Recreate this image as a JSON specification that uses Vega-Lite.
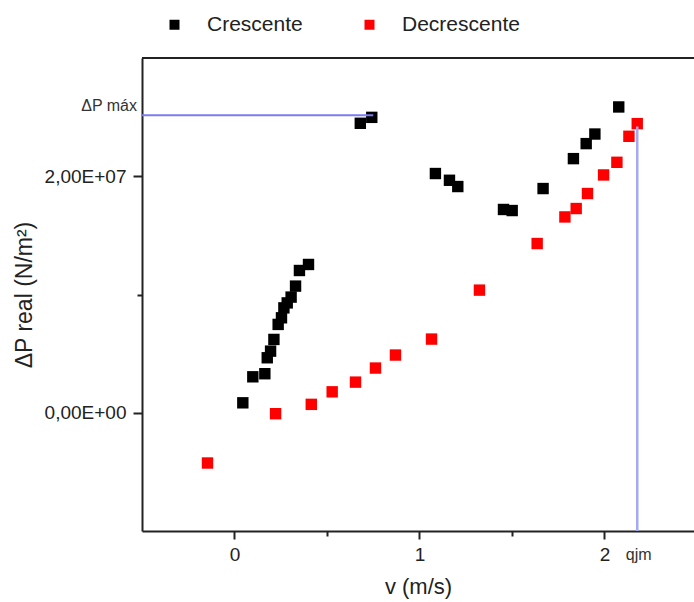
{
  "$schema": "https://vega.github.io/schema/vega-lite/v6.json",
  "width": 552,
  "height": 473,
  "autosize": {"type": "none"},
  "padding": {"left": 142, "top": 58, "right": 0, "bottom": 71},
  "background": "#ffffff",
  "config": {
    "view": {"stroke": null},
    "font": "Liberation Sans",
    "axis": {"labelFont": "Liberation Sans", "titleFont": "Liberation Sans", "labelColor": "#222", "titleColor": "#222", "titleFontWeight": "normal", "domainColor": "#222", "domainWidth": 2, "tickColor": "#222", "tickWidth": 2, "grid": false}
  },
  "encoding": {
    "x": {"field": "v", "type": "quantitative",
      "scale": {"domain": [-0.5, 2.4838], "nice": false, "zero": false},
      "axis": {"orient": "bottom", "values": [0, 0.5, 1, 1.5, 2], "labelExpr": "datum.value == 0.5 || datum.value == 1.5 ? '' : format(datum.value, 'd')",
        "tickSize": {"condition": {"test": "datum.value == 0.5 || datum.value == 1.5", "value": 5}, "value": 8},
        "labelFontSize": 19, "labelPadding": 6, "title": "v (m/s)", "titleFontSize": 22, "titlePadding": 12}},
    "y": {"field": "dp", "type": "quantitative",
      "scale": {"domain": [-10000000, 30000000], "nice": false, "zero": false},
      "axis": {"values": [0, 10000000, 20000000],
        "labelExpr": "datum.value == 0 ? '0,00E+00' : datum.value == 20000000 ? '2,00E+07' : ''",
        "tickSize": {"condition": {"test": "datum.value == 10000000", "value": 5}, "value": 9},
        "labelFontSize": 19, "labelPadding": 7, "title": "ΔP real (N/m²)", "titleFontSize": 23, "titleX": -106}}
  },
  "layer": [
    {
      "data": {"values": [
        {"v": 0.045, "dp": 840000, "serie": "Crescente"},
        {"v": 0.099, "dp": 3040000, "serie": "Crescente"},
        {"v": 0.164, "dp": 3300000, "serie": "Crescente"},
        {"v": 0.177, "dp": 4650000, "serie": "Crescente"},
        {"v": 0.195, "dp": 5210000, "serie": "Crescente"},
        {"v": 0.213, "dp": 6200000, "serie": "Crescente"},
        {"v": 0.236, "dp": 7470000, "serie": "Crescente"},
        {"v": 0.254, "dp": 8030000, "serie": "Crescente"},
        {"v": 0.267, "dp": 8870000, "serie": "Crescente"},
        {"v": 0.285, "dp": 9290000, "serie": "Crescente"},
        {"v": 0.306, "dp": 9780000, "serie": "Crescente"},
        {"v": 0.33, "dp": 10710000, "serie": "Crescente"},
        {"v": 0.351, "dp": 12030000, "serie": "Crescente"},
        {"v": 0.4, "dp": 12540000, "serie": "Crescente"},
        {"v": 0.68, "dp": 24480000, "serie": "Crescente"},
        {"v": 0.742, "dp": 24980000, "serie": "Crescente"},
        {"v": 1.086, "dp": 20230000, "serie": "Crescente"},
        {"v": 1.162, "dp": 19660000, "serie": "Crescente"},
        {"v": 1.207, "dp": 19130000, "serie": "Crescente"},
        {"v": 1.454, "dp": 17190000, "serie": "Crescente"},
        {"v": 1.501, "dp": 17100000, "serie": "Crescente"},
        {"v": 1.668, "dp": 18960000, "serie": "Crescente"},
        {"v": 1.832, "dp": 21490000, "serie": "Crescente"},
        {"v": 1.901, "dp": 22760000, "serie": "Crescente"},
        {"v": 1.948, "dp": 23570000, "serie": "Crescente"},
        {"v": 2.077, "dp": 25860000, "serie": "Crescente"},
        {"v": -0.146, "dp": -4250000, "serie": "Decrescente"},
        {"v": 0.222, "dp": -80000, "serie": "Decrescente"},
        {"v": 0.415, "dp": 710000, "serie": "Decrescente"},
        {"v": 0.528, "dp": 1770000, "serie": "Decrescente"},
        {"v": 0.654, "dp": 2590000, "serie": "Decrescente"},
        {"v": 0.762, "dp": 3780000, "serie": "Decrescente"},
        {"v": 0.87, "dp": 4880000, "serie": "Decrescente"},
        {"v": 1.065, "dp": 6230000, "serie": "Decrescente"},
        {"v": 1.324, "dp": 10370000, "serie": "Decrescente"},
        {"v": 1.636, "dp": 14310000, "serie": "Decrescente"},
        {"v": 1.786, "dp": 16560000, "serie": "Decrescente"},
        {"v": 1.847, "dp": 17270000, "serie": "Decrescente"},
        {"v": 1.908, "dp": 18540000, "serie": "Decrescente"},
        {"v": 1.995, "dp": 20110000, "serie": "Decrescente"},
        {"v": 2.067, "dp": 21180000, "serie": "Decrescente"},
        {"v": 2.132, "dp": 23380000, "serie": "Decrescente"},
        {"v": 2.177, "dp": 24450000, "serie": "Decrescente"}
      ]},
      "mark": {"type": "point", "shape": "square", "filled": true, "opacity": 1, "size": 130},
      "encoding": {
        "color": {"field": "serie", "type": "nominal",
          "scale": {"domain": ["Crescente", "Decrescente"], "range": ["#000000", "#ff0000"]},
          "legend": {"title": null, "orient": "none", "legendX": 22, "legendY": -44, "direction": "horizontal",
            "symbolType": "square", "symbolSize": 100, "symbolStrokeWidth": 0, "labelFontSize": 21, "labelColor": "#222", "labelFont": "Liberation Sans",
            "labelOffset": 22, "columnPadding": 56, "padding": 0}}
      }
    },
    {
      "data": {"values": [{"v": -0.5, "v2": 2.4838, "dp": 30000000}]},
      "mark": {"type": "rule", "color": "#222", "strokeWidth": 2},
      "encoding": {"x2": {"field": "v2"}}
    },
    {
      "data": {"values": [{"v": -0.5, "v2": 0.75, "dp": 25150000}]},
      "mark": {"type": "rule", "color": "#7b7bf5", "strokeWidth": 2},
      "encoding": {"x2": {"field": "v2"}}
    },
    {
      "data": {"values": [{"v": 2.177, "dp": -10000000, "dp2": 24200000}]},
      "mark": {"type": "rule", "color": "#a4a9f0", "strokeWidth": 2.5},
      "encoding": {"y2": {"field": "dp2"}}
    },
    {
      "data": {"values": [{"v": -0.5, "dp": 25150000, "t": "ΔP máx"}]},
      "mark": {"type": "text", "align": "right", "baseline": "middle", "dx": -5, "dy": -9, "fontSize": 16, "color": "#333", "clip": false},
      "encoding": {"text": {"field": "t"}}
    },
    {
      "data": {"values": [{"v": 2.185, "dp": -10000000, "t": "qjm"}]},
      "mark": {"type": "text", "align": "center", "baseline": "middle", "dy": 24, "fontSize": 16, "color": "#333", "clip": false},
      "encoding": {"text": {"field": "t"}}
    }
  ]
}
